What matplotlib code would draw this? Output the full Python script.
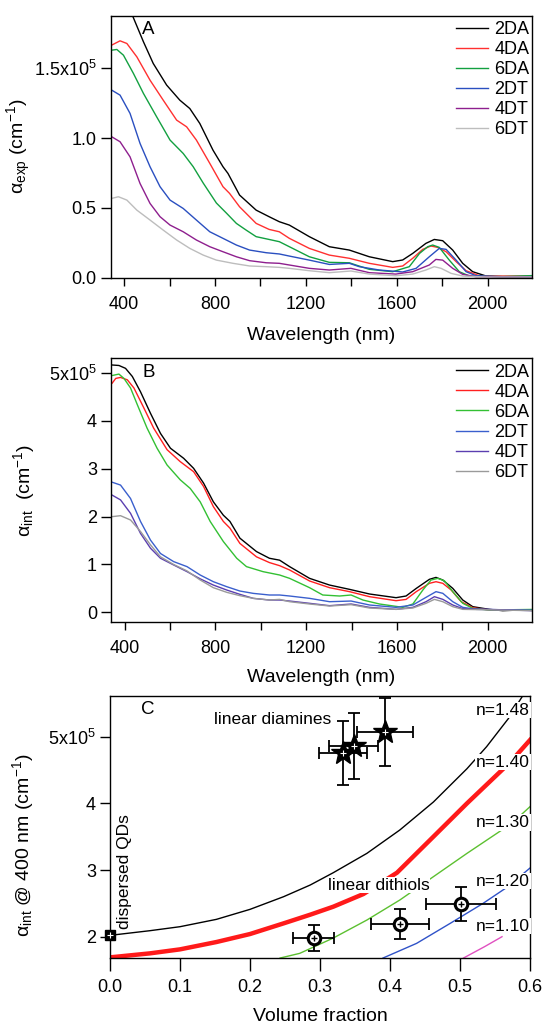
import matplotlib
matplotlib.use("Agg")
import matplotlib.pyplot as plt
from matplotlib.ticker import FixedLocator, FixedFormatter
import numpy as np

plt.rcParams["font.family"] = ["Liberation Sans", "DejaVu Sans"]
plt.rcParams["mathtext.fontset"] = "custom"
plt.rcParams["mathtext.rm"] = "Liberation Sans"
plt.rcParams["mathtext.it"] = "Liberation Sans:italic"
plt.rcParams["mathtext.default"] = "regular"

series_names = ["2DA", "4DA", "6DA", "2DT", "4DT", "6DT"]

a_2da_wl = [345, 390, 438, 485, 528, 587, 645, 689, 733, 791, 835, 857, 908, 981, 1038, 1083, 1127, 1215,
            1303, 1391, 1479, 1582, 1626, 1670, 1728, 1765, 1802, 1846, 1890, 1934, 1993, 2066, 2140, 2195]
a_2da = [2.30, 2.08, 1.873, 1.69, 1.535, 1.38, 1.272, 1.212, 1.105, 0.914, 0.795, 0.747, 0.592, 0.484, 0.437,
         0.401, 0.377, 0.294, 0.222, 0.198, 0.150, 0.115, 0.127, 0.174, 0.246, 0.274, 0.265, 0.198, 0.103,
         0.043, 0.012, 0.003, 0.003, 0.003]

a_4da_wl = [345, 382, 412, 456, 514, 572, 631, 675, 718, 777, 835, 864, 908, 981, 1038, 1083, 1127, 1215,
            1303, 1391, 1479, 1582, 1626, 1670, 1714, 1750, 1780, 1817, 1861, 1905, 1963, 2066, 2195]
a_4da = [1.666, 1.697, 1.678, 1.582, 1.415, 1.272, 1.129, 1.081, 0.986, 0.819, 0.652, 0.604, 0.508, 0.389,
         0.346, 0.329, 0.282, 0.210, 0.162, 0.139, 0.103, 0.074, 0.084, 0.139, 0.203, 0.227, 0.217, 0.186,
         0.115, 0.050, 0.014, 0.012, 0.012]

a_6da_wl = [345, 368, 397, 441, 485, 543, 602, 660, 704, 748, 806, 850, 894, 937, 981, 1038, 1083, 1127,
            1215, 1303, 1391, 1420, 1479, 1582, 1655, 1700, 1736, 1758, 1787, 1831, 1875, 1919, 2066, 2195]
a_6da = [1.63, 1.635, 1.594, 1.463, 1.32, 1.153, 0.986, 0.890, 0.795, 0.678, 0.535, 0.463, 0.389, 0.341,
         0.294, 0.274, 0.258, 0.222, 0.150, 0.110, 0.107, 0.091, 0.060, 0.043, 0.079, 0.174, 0.222, 0.234,
         0.217, 0.126, 0.043, 0.012, 0.008, 0.015]

a_2dt_wl = [345, 382, 426, 470, 514, 558, 602, 660, 718, 777, 835, 894, 952, 1025, 1083, 1127, 1215, 1303,
            1391, 1435, 1523, 1626, 1685, 1743, 1787, 1817, 1861, 1905, 1949, 2066, 2195]
a_2dt = [1.344, 1.308, 1.177, 0.962, 0.795, 0.652, 0.556, 0.496, 0.413, 0.329, 0.282, 0.234, 0.198, 0.179,
         0.170, 0.155, 0.126, 0.095, 0.103, 0.079, 0.055, 0.041, 0.067, 0.150, 0.210, 0.203, 0.126, 0.043,
         0.014, 0.007, 0.007]

a_4dt_wl = [345, 382, 426, 470, 514, 558, 602, 660, 718, 777, 835, 894, 952, 1025, 1083, 1127, 1215, 1303,
            1398, 1479, 1596, 1670, 1743, 1772, 1802, 1846, 1890, 1949, 2195]
a_4dt = [1.01, 0.974, 0.866, 0.675, 0.532, 0.437, 0.377, 0.329, 0.270, 0.222, 0.186, 0.150, 0.122, 0.107,
         0.103, 0.091, 0.067, 0.055, 0.067, 0.036, 0.026, 0.043, 0.091, 0.131, 0.126, 0.067, 0.024, 0.007,
         0.005]

a_6dt_wl = [345, 375, 412, 456, 514, 572, 631, 689, 748, 806, 879, 952, 1025, 1083, 1127, 1215, 1303, 1398,
            1479, 1596, 1670, 1728, 1765, 1795, 1839, 1890, 1993, 2195]
a_6dt = [0.568, 0.58, 0.556, 0.484, 0.413, 0.341, 0.270, 0.210, 0.162, 0.126, 0.103, 0.084, 0.079, 0.074,
         0.067, 0.050, 0.036, 0.048, 0.026, 0.014, 0.026, 0.055, 0.079, 0.067, 0.031, 0.012, 0.005, 0.005]

# ---- panel B: intrinsic absorption (x1e5 cm^-1) ----
b_2da_wl = [345, 375, 404, 434, 470, 514, 558, 602, 660, 704, 748, 791, 835, 864, 908, 981, 1038, 1083, 1127,
            1215, 1303, 1391, 1479, 1596, 1640, 1685, 1743, 1772, 1802, 1846, 1890, 1934, 2007, 2066, 2140,
            2195]
b_2da = [5.17, 5.16, 5.10, 4.93, 4.61, 4.16, 3.74, 3.43, 3.22, 3.01, 2.70, 2.31, 2.03, 1.90, 1.55, 1.27,
         1.13, 1.09, 0.955, 0.71, 0.57, 0.48, 0.383, 0.306, 0.341, 0.50, 0.69, 0.73, 0.675, 0.50, 0.257,
         0.118, 0.062, 0.034, 0.048, 0.04]

b_4da_wl = [345, 361, 382, 412, 441, 485, 528, 587, 645, 704, 748, 791, 835, 864, 908, 981, 1038, 1083,
            1127, 1215, 1303, 1391, 1479, 1596, 1640, 1685, 1743, 1772, 1802, 1839, 1883, 1934, 2007, 2195]
b_4da = [4.79, 4.89, 4.91, 4.86, 4.69, 4.27, 3.85, 3.40, 3.15, 2.94, 2.63, 2.21, 1.90, 1.76, 1.44, 1.16,
         1.04, 0.975, 0.885, 0.655, 0.515, 0.432, 0.327, 0.243, 0.27, 0.432, 0.606, 0.64, 0.606, 0.466,
         0.222, 0.097, 0.048, 0.05]

b_6da_wl = [345, 375, 397, 426, 456, 499, 543, 587, 645, 689, 733, 777, 835, 894, 937, 1010, 1083, 1127,
            1215, 1273, 1347, 1398, 1450, 1523, 1626, 1670, 1714, 1750, 1780, 1809, 1846, 1890, 1934, 2007,
            2195]
b_6da = [4.95, 4.98, 4.89, 4.69, 4.34, 3.85, 3.43, 3.08, 2.77, 2.59, 2.31, 1.90, 1.48, 1.13, 0.955, 0.85,
         0.78, 0.71, 0.515, 0.362, 0.341, 0.362, 0.257, 0.174, 0.104, 0.174, 0.466, 0.675, 0.71, 0.66,
         0.432, 0.188, 0.083, 0.048, 0.06]

b_2dt_wl = [345, 382, 426, 470, 514, 558, 616, 675, 733, 791, 850, 908, 967, 1038, 1083, 1127, 1215, 1303,
            1398, 1479, 1596, 1670, 1728, 1772, 1802, 1846, 1890, 1949, 2195]
b_2dt = [2.72, 2.66, 2.38, 1.90, 1.51, 1.23, 1.06, 0.955, 0.78, 0.64, 0.536, 0.445, 0.396, 0.362, 0.362,
         0.341, 0.292, 0.222, 0.236, 0.153, 0.104, 0.153, 0.313, 0.432, 0.397, 0.222, 0.104, 0.062, 0.045]

b_4dt_wl = [345, 382, 426, 470, 514, 558, 616, 675, 733, 791, 850, 908, 967, 1038, 1083, 1127, 1215, 1303,
            1398, 1479, 1596, 1670, 1728, 1765, 1802, 1846, 1890, 2195]
b_4dt = [2.45, 2.35, 2.07, 1.65, 1.34, 1.13, 0.99, 0.85, 0.70, 0.57, 0.466, 0.376, 0.292, 0.257, 0.257,
         0.236, 0.188, 0.139, 0.174, 0.104, 0.062, 0.104, 0.222, 0.327, 0.271, 0.153, 0.076, 0.035]

b_6dt_wl = [345, 382, 426, 470, 514, 558, 616, 675, 733, 791, 850, 908, 967, 1038, 1083, 1127, 1215, 1303,
            1398, 1479, 1596, 1670, 1728, 1765, 1802, 1846, 1890, 2195]
b_6dt = [2.00, 2.02, 1.93, 1.69, 1.41, 1.16, 1.00, 0.865, 0.676, 0.515, 0.418, 0.348, 0.292, 0.257, 0.271,
         0.222, 0.174, 0.132, 0.160, 0.090, 0.062, 0.090, 0.188, 0.271, 0.222, 0.118, 0.062, 0.035]

# ---- panel C: alpha_int at 400 nm vs volume fraction ----
qd_x, qd_y = [0.0], [2.03]
diamine_x = [0.333, 0.348, 0.393]
diamine_y = [4.75, 4.86, 5.07]
diamine_xerr = [0.034, 0.035, 0.040]
diamine_yerr = [0.48, 0.50, 0.51]
dithiol_x = [0.291, 0.414, 0.502]
dithiol_y = [1.98, 2.19, 2.49]
dithiol_xerr = [0.029, 0.041, 0.050]
dithiol_yerr = [0.20, 0.22, 0.25]

n148_x = [0.0, 0.057, 0.10, 0.152, 0.20, 0.248, 0.286, 0.319, 0.367, 0.414, 0.462, 0.51, 0.538, 0.569, 0.59]
n148_y = [2.02, 2.09, 2.15, 2.26, 2.41, 2.60, 2.775, 2.96, 3.25, 3.60, 4.02, 4.52, 4.85, 5.27, 5.62]
n140_x = [0.0, 0.057, 0.10, 0.152, 0.20, 0.248, 0.286, 0.319, 0.362, 0.41, 0.462, 0.51, 0.54, 0.572, 0.60]
n140_y = [1.69, 1.75, 1.81, 1.92, 2.04, 2.20, 2.33, 2.45, 2.64, 2.96, 3.50, 4.0, 4.3, 4.62, 4.95]
n130_x = [0.243, 0.271, 0.319, 0.367, 0.414, 0.462, 0.51, 0.574, 0.60]
n130_y = [1.68, 1.75, 1.98, 2.25, 2.55, 2.90, 3.25, 3.70, 3.95]
n120_x = [0.39, 0.438, 0.486, 0.533, 0.567, 0.60]
n120_y = [1.68, 1.90, 2.20, 2.50, 2.74, 3.03]
n110_x = [0.505, 0.535, 0.56]
n110_y = [1.68, 1.85, 2.0]

colors_a = ["#000000", "#ff3030", "#12a040", "#2a4fc0", "#8e1f8e", "#bdbdbd"]
colors_b = ["#000000", "#ff2020", "#33c033", "#3a5fcd", "#5b3fb0", "#9a9a9a"]

W, H = 543, 1025
fig = plt.figure(figsize=(W / 100, H / 100), dpi=100)


def px_axes(left, top, right, bottom):
    return fig.add_axes([left / W, 1 - bottom / H, (right - left) / W, (bottom - top) / H])


def style(ax):
    for s in ax.spines.values():
        s.set_linewidth(1.0)
    ax.tick_params(direction="out", width=1.0, labelsize=13, colors="black")
    ax.tick_params(axis="y", length=7.5, pad=2.5)
    ax.tick_params(axis="x", length=5.5, pad=8)


axA = px_axes(110.5, 15.7, 532, 277.7)
axB = px_axes(111, 358.3, 532, 621.7)
axC = px_axes(110, 696, 530, 958.3)

wl_ticks = [400, 600, 800, 1000, 1200, 1400, 1600, 1800, 2000, 2200]
wl_labels = ["400", "", "800", "", "1200", "", "1600", "", "2000", ""]

a_sets = [(a_2da_wl, a_2da), (a_4da_wl, a_4da), (a_6da_wl, a_6da),
          (a_2dt_wl, a_2dt), (a_4dt_wl, a_4dt), (a_6dt_wl, a_6dt)]
for (wl, v), c, name in zip(a_sets, colors_a, series_names):
    axA.plot(wl, np.array(v) * 1e5, color=c, lw=1.0, label=name)
axA.set_xlim(340, 2195)
axA.set_ylim(0, 1.877e5)
axA.yaxis.set_major_locator(FixedLocator([0, 0.5e5, 1.0e5, 1.5e5]))
axA.yaxis.set_major_formatter(FixedFormatter(["0.0", "0.5", "1.0", r"1.5x10$^{5}$"]))

b_sets = [(b_2da_wl, b_2da), (b_4da_wl, b_4da), (b_6da_wl, b_6da),
          (b_2dt_wl, b_2dt), (b_4dt_wl, b_4dt), (b_6dt_wl, b_6dt)]
for (wl, v), c, name in zip(b_sets, colors_b, series_names):
    axB.plot(wl, np.array(v) * 1e5, color=c, lw=1.0, label=name)
axB.set_xlim(340, 2195)
axB.set_ylim(-0.196e5, 5.31e5)
axB.yaxis.set_major_locator(FixedLocator([0, 1e5, 2e5, 3e5, 4e5, 5e5]))
axB.yaxis.set_major_formatter(FixedFormatter(["0", "1", "2", "3", "4", r"5x10$^{5}$"]))

for ax, lab in [(axA, "A"), (axB, "B")]:
    style(ax)
    ax.xaxis.set_major_locator(FixedLocator(wl_ticks))
    ax.xaxis.set_major_formatter(FixedFormatter(wl_labels))
    ax.set_xlabel("Wavelength (nm)", fontsize=14)
    ax.text(0.089, 0.947, lab, transform=ax.transAxes, fontsize=13.5, ha="center", va="center")
    ax.legend(loc="upper right", bbox_to_anchor=(1.0, 0.99), frameon=False, fontsize=13,
              handlelength=1.75, handletextpad=0.35, labelspacing=0.17, borderaxespad=0.0,
              borderpad=0.15)

axA.set_ylabel(r"$\alpha_{exp}$ (cm$^{-1}$)", fontsize=14)
axA.yaxis.set_label_coords(-0.185, 0.5)
axA.xaxis.set_label_coords(0.5, -0.19)
axB.set_ylabel(r"$\alpha_{int}$  (cm$^{-1}$)", fontsize=14)
axB.yaxis.set_label_coords(-0.176, 0.5)
axB.xaxis.set_label_coords(0.5, -0.178)

# ---- panel C ----
curve_sets = [(n148_x, n148_y, "#000000", 1.0), (n140_x, n140_y, "#ff1a1a", 3.2),
              (n130_x, n130_y, "#5cc030", 1.0), (n120_x, n120_y, "#2f52c8", 1.0),
              (n110_x, n110_y, "#e050c0", 1.0)]
for x, y, c, lw in curve_sets:
    axC.plot(x, np.array(y) * 1e5, color=c, lw=lw, zorder=2)

ebar = dict(fmt="none", ecolor="black", elinewidth=1.3, capsize=4, capthick=1.3, zorder=3)
axC.errorbar(diamine_x, np.array(diamine_y) * 1e5, xerr=diamine_xerr,
             yerr=np.array(diamine_yerr) * 1e5, **ebar)
axC.errorbar(dithiol_x, np.array(dithiol_y) * 1e5, xerr=dithiol_xerr,
             yerr=np.array(dithiol_yerr) * 1e5, **ebar)
axC.plot(diamine_x, np.array(diamine_y) * 1e5, ls="none", marker="*", ms=18, color="black",
         mec="black", zorder=4)
axC.plot(diamine_x, np.array(diamine_y) * 1e5, ls="none", marker="+", ms=4, color="white",
         mew=0.8, zorder=5)
axC.plot(dithiol_x, np.array(dithiol_y) * 1e5, ls="none", marker="o", ms=9, mfc="white",
         mec="black", mew=2.2, zorder=4)
axC.plot(dithiol_x, np.array(dithiol_y) * 1e5, ls="none", marker="+", ms=5, color="black",
         mew=1.0, zorder=5)
axC.plot(qd_x, np.array(qd_y) * 1e5, ls="none", marker="s", ms=7, color="black", zorder=4,
         clip_on=False)
axC.plot(qd_x, np.array(qd_y) * 1e5, ls="none", marker="+", ms=4, color="white", mew=0.8,
         zorder=5, clip_on=False)

axC.set_xlim(0, 0.6)
axC.set_ylim(1.676e5, 5.61e5)
axC.xaxis.set_major_locator(FixedLocator([0, 0.1, 0.2, 0.3, 0.4, 0.5, 0.6]))
axC.xaxis.set_major_formatter(FixedFormatter(["0.0", "0.1", "0.2", "0.3", "0.4", "0.5", "0.6"]))
axC.yaxis.set_major_locator(FixedLocator([2e5, 3e5, 4e5, 5e5]))
axC.yaxis.set_major_formatter(FixedFormatter(["2", "3", "4", r"5x10$^{5}$"]))
style(axC)
axC.tick_params(axis="x", length=9, pad=6)
axC.set_xlabel("Volume fraction", fontsize=14)
axC.xaxis.set_label_coords(0.5, -0.19)
axC.set_ylabel(r"$\alpha_{int}$ @ 400 nm (cm$^{-1}$)", fontsize=14)
axC.yaxis.set_label_coords(-0.176, 0.432)

white = dict(facecolor="white", edgecolor="none", pad=0.5)
axC.text(0.091, 0.947, "C", transform=axC.transAxes, fontsize=13.5, ha="center", va="center")
axC.text(0.233, 5.26e5, "linear diamines", fontsize=12.5, ha="center", va="center")
axC.text(0.384, 2.775e5, "linear dithiols", fontsize=12.5, ha="center", va="center", bbox=white,
         zorder=3)
axC.text(0.021, 2.12e5, "dispersed QDs", fontsize=12.5, ha="center", va="bottom", rotation=90)
n_labels = ["n=1.48", "n=1.40", "n=1.30", "n=1.20", "n=1.10"]
n_label_y = [5.40, 4.62, 3.71, 2.835, 2.16]
for t, yy in zip(n_labels, n_label_y):
    axC.text(0.6, yy * 1e5, t, fontsize=12.5, ha="right", va="center", bbox=white, zorder=3)

fig.savefig("out.png", dpi=100)
